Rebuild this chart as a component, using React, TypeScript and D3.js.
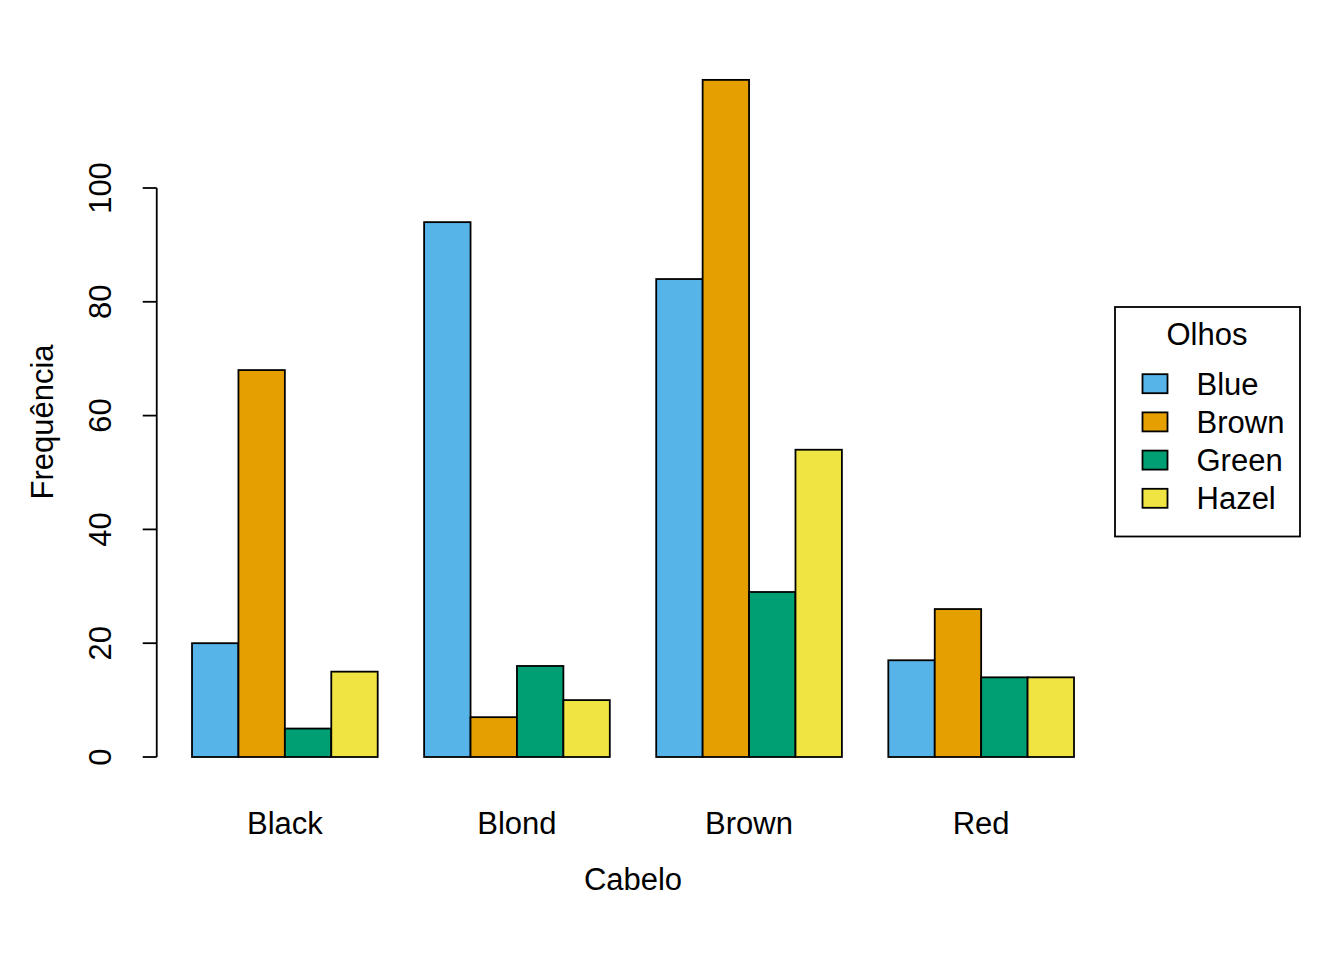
import React from "react";
import * as d3 from "d3";

const hair = ["Black", "Blond", "Brown", "Red"];
const eyes = ["Blue", "Brown", "Green", "Hazel"];
const colors = ["#56B4E9", "#E69F00", "#009E73", "#F0E442"];
const blueVals = [20, 94, 84, 17];
const brownVals = [68, 7, 119, 26];
const greenVals = [5, 16, 29, 14];
const hazelVals = [15, 10, 54, 14];
const yTicks = [0, 20, 40, 60, 80, 100];

const series = [blueVals, brownVals, greenVals, hazelVals];
const FONT = "'Liberation Sans', Arial, sans-serif";
const FS = 31;

export default function App() {
  const W = 1344, H = 960;
  // bar units: each group has 4 bars of width 1 preceded by a space of 1
  const x = d3.scaleLinear().domain([0, 20]).range([145.6, 1074]);
  const y = d3.scaleLinear().domain([0, 100]).range([757, 188]);
  const axisX = x(0.24);

  const bars: JSX.Element[] = [];
  hair.forEach((h, gi) => {
    series.forEach((vals, si) => {
      const start = gi * 5 + 1 + si;
      const x0 = x(start), x1 = x(start + 1);
      bars.push(
        <rect key={`${gi}-${si}`} x={x0} y={y(vals[gi])} width={x1 - x0} height={y(0) - y(vals[gi])}
          fill={colors[si]} stroke="#000" strokeWidth={1.8} />
      );
    });
  });

  const legendRowY = (i: number) => 383.7 + i * 38.2;

  return (
    <svg width={W} height={H} style={{ position: "absolute", left: 0, top: 0, background: "#fff" }}
      fontFamily={FONT}>
      <rect x={0} y={0} width={W} height={H} fill="#fff" />
      {bars}
      {/* y axis */}
      <line x1={axisX} x2={axisX} y1={y(0)} y2={y(100)} stroke="#000" strokeWidth={1.8} />
      {yTicks.map((t) => (
        <g key={t}>
          <line x1={axisX - 14} x2={axisX} y1={y(t)} y2={y(t)} stroke="#000" strokeWidth={1.8} />
          <text transform={`translate(111,${y(t)}) rotate(-90)`} textAnchor="middle" fontSize={FS}>{t}</text>
        </g>
      ))}
      {/* category labels */}
      {hair.map((h, gi) => (
        <text key={h} x={x(gi * 5 + 3)} y={834} textAnchor="middle" fontSize={FS}>{h}</text>
      ))}
      <text x={x(10.5)} y={890} textAnchor="middle" fontSize={FS}>Cabelo</text>
      <text transform={`translate(53,422) rotate(-90)`} textAnchor="middle" fontSize={FS}>Frequência</text>
      {/* legend */}
      <rect x={1115} y={307} width={185} height={229.5} fill="#fff" stroke="#000" strokeWidth={1.8} />
      <text x={1207} y={345} textAnchor="middle" fontSize={FS}>Olhos</text>
      {eyes.map((e, i) => (
        <g key={e}>
          <rect x={1142.5} y={legendRowY(i) - 9.5} width={25} height={19} fill={colors[i]} stroke="#000" strokeWidth={1.8} />
          <text x={1196.5} y={legendRowY(i) + 11} fontSize={FS}>{e}</text>
        </g>
      ))}
    </svg>
  );
}
